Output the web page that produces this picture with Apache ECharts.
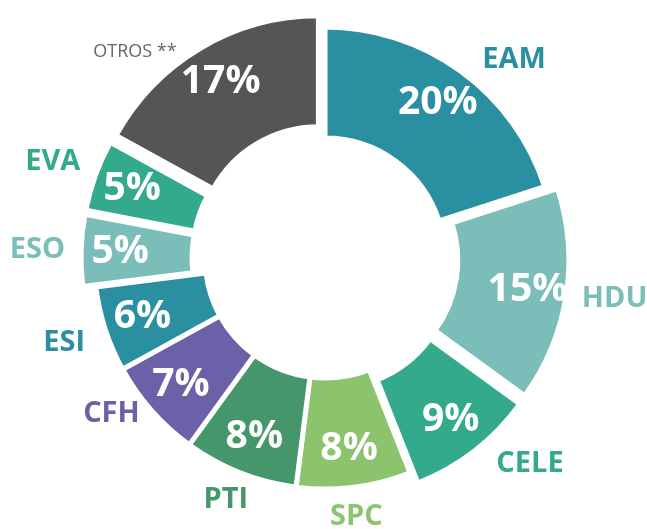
<!DOCTYPE html>
<html>
<head>
<meta charset="utf-8">
<script src="https://cdn.jsdelivr.net/npm/echarts@6/dist/echarts.min.js"></script>
<style>
  html, body { margin: 0; padding: 0; background: #fff; }
  #chart { width: 647px; height: 529px; }
</style>
</head>
<body>
<div id="chart"></div>
<script>
// slices, clockwise from the top
var names = ['EAM', 'HDU', 'CELE', 'SPC', 'PTI', 'CFH', 'ESI', 'ESO', 'EVA', 'OTROS **']
var shares = [20, 15, 9, 8, 8, 7, 6, 5, 5, 17]
// slices drawn pulled out of the ring
var pulledOut = [false, true, true, false, false, false, false, true, true, true]
var colors = ['#2b8fa2', '#7bbdb8', '#33aa8c', '#8cc46e', '#45966a', '#6a61a8', '#2b8fa2', '#7bbdb8', '#33aa8c', '#555555']

// small hand nudges for the outer name labels
var nameNudge = {
  'EAM': [12, 2],
  'CELE': [12, 0],
  'SPC': [-26, 14],
  'PTI': [14, 12],
  'CFH': [0, -8],
  'ESI': [-5, 8],
  'EVA': [0, -8],
  'OTROS **': [-16, 18]
}

var chart = echarts.init(document.getElementById('chart'))

var center = [325, 258]
var ring = [120, 231]
var clear = { color: 'rgba(0,0,0,0)', borderWidth: 0 }

function baseSeries(radius) {
  return {
    type: 'pie',
    center: center,
    radius: radius,
    startAngle: 90,
    clockwise: true,
    selectedMode: 'multiple',
    selectedOffset: 13,
    silent: true,
    labelLine: { show: false }
  }
}

// coloured ring
var ringSeries = baseSeries(ring)
ringSeries.itemStyle = { borderColor: '#fff', borderWidth: 5 }
ringSeries.label = { show: false }
ringSeries.data = names.map(function (n, i) {
  return { name: n, value: shares[i], selected: pulledOut[i], itemStyle: { color: colors[i] } }
})

// percentages, set a bit outside the middle of the ring
var pctSeries = baseSeries([147, 231])
pctSeries.itemStyle = clear
pctSeries.label = {
  position: 'inside',
  formatter: '{c}%',
  color: '#fff',
  fontFamily: 'Open Sans',
  fontWeight: 'bold',
  fontSize: 39
}
pctSeries.data = names.map(function (n, i) {
  return { name: n, value: shares[i], selected: pulledOut[i] }
})

// names outside the ring
var nameSeries = baseSeries(ring)
nameSeries.itemStyle = clear
nameSeries.label = {
  position: 'outside',
  formatter: '{b}',
  fontFamily: 'Open Sans',
  distanceToLabelLine: 0
}
nameSeries.labelLine = { show: false, length: 16, length2: 0 }
nameSeries.labelLayout = function (p) {
  var d = nameNudge[p.text] || [0, 0]
  return { dx: d[0], dy: d[1] }
}
nameSeries.data = names.map(function (n, i) {
  var other = n === 'OTROS **'
  return {
    name: n,
    value: shares[i],
    selected: pulledOut[i],
    label: {
      color: other ? '#666' : colors[i],
      fontWeight: other ? 'normal' : 'bold',
      fontSize: other ? 18 : 29
    }
  }
})

chart.setOption({
  animation: false,
  series: [ringSeries, pctSeries, nameSeries]
})
</script>
</body>
</html>
